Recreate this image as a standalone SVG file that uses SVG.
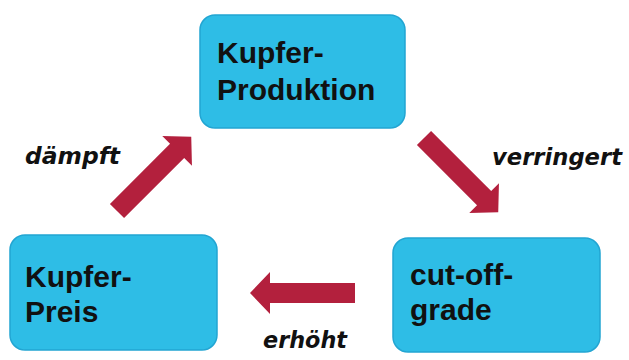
<svg xmlns="http://www.w3.org/2000/svg" width="629" height="360" viewBox="0 0 629 360">
<defs>
<style>
.box{fill:#2ebde6;stroke:#22a5d2;stroke-width:1.5}
.bt{font-family:"Liberation Sans",Arial,sans-serif;font-weight:bold;font-size:30px;fill:#111}
.lb{font-family:"DejaVu Sans",Verdana,sans-serif;font-weight:bold;font-style:italic;font-size:23px;fill:#111}
.arr{fill:#b3203d}
</style>
<polygon id="arrowShape" points="0,-10 85,-10 85,-21 105,0 85,21 85,10 0,10"/>
</defs>
<rect width="629" height="360" fill="#ffffff"/>
<g id="node-produktion">
<rect class="box" x="200" y="15" width="205" height="113" rx="15"/>
<text class="bt" x="217" y="63">Kupfer-</text>
<text class="bt" x="217" y="100">Produktion</text>
</g>
<g id="node-preis">
<rect class="box" x="10" y="235" width="207" height="115" rx="15"/>
<text class="bt" x="25" y="287">Kupfer-</text>
<text class="bt" x="25" y="322">Preis</text>
</g>
<g id="node-cutoff">
<rect class="box" x="393" y="238" width="207" height="114" rx="15"/>
<text class="bt" x="410" y="285">cut-off-</text>
<text class="bt" x="410" y="320">grade</text>
</g>
<g id="connectors">
<use href="#arrowShape" class="arr" transform="translate(117,211) rotate(-45)"/>
<use href="#arrowShape" class="arr" transform="translate(424,138) rotate(45)"/>
<use href="#arrowShape" class="arr" transform="translate(355,293) rotate(180)"/>
<text class="lb" x="25" y="164" textLength="95" lengthAdjust="spacingAndGlyphs">dämpft</text>
<text class="lb" x="492" y="165" textLength="130" lengthAdjust="spacingAndGlyphs">verringert</text>
<text class="lb" x="263" y="348" textLength="84" lengthAdjust="spacingAndGlyphs">erhöht</text>
</g>
</svg>
